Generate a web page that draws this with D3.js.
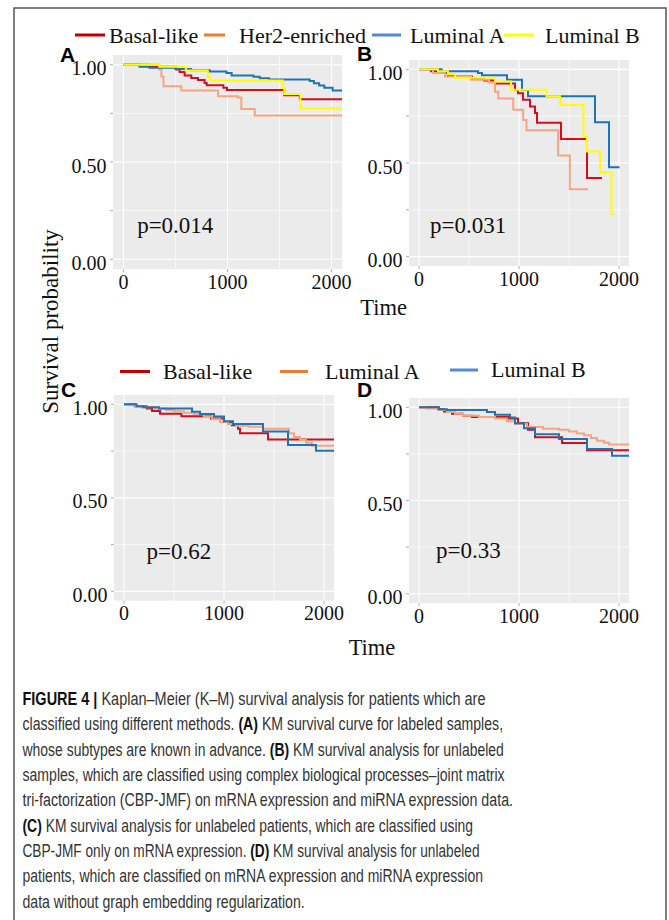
<!DOCTYPE html>
<html><head><meta charset="utf-8">
<script src="https://cdn.jsdelivr.net/npm/d3@7"></script>
<style>html,body{margin:0;padding:0;background:#fff;} svg{display:block}</style>
</head><body><svg id="c" width="669" height="920"></svg>
<script>
// ---------------- DATA ----------------
// Kaplan–Meier curves: [time, survival probability]
const basalA = [[0,1],[250,0.99],[508,0.975],[540,0.962],[588,0.945],[652,0.932],[716,0.922],[780,0.906],[800,0.895],[960,0.882],[995,0.87],[1545,0.843],[1695,0.822],[2100,0.822]];
const her2A  = [[0,1],[345,0.975],[365,0.94],[385,0.89],[556,0.868],[909,0.838],[1100,0.832],[1133,0.773],[1262,0.739],[2100,0.739]];
const lumAA  = [[0,1],[154,0.99],[250,0.985],[500,0.978],[650,0.972],[830,0.965],[990,0.957],[1040,0.945],[1250,0.938],[1310,0.93],[1400,0.924],[1790,0.916],[1830,0.905],[1880,0.893],[1930,0.882],[2010,0.868],[2100,0.868]];
const lumBA  = [[0,1],[347,0.99],[600,0.97],[810,0.935],[830,0.919],[1530,0.88],[1545,0.85],[1700,0.775],[2100,0.775]];

const basalB = [[0,1],[120,0.99],[230,0.98],[290,0.97],[360,0.962],[530,0.95],[650,0.94],[760,0.925],[960,0.89],[990,0.873],[1040,0.838],[1110,0.802],[1160,0.767],[1180,0.715],[1420,0.628],[1680,0.42],[1830,0.42]];
const her2B  = [[0,1],[140,0.98],[260,0.962],[520,0.945],[700,0.93],[760,0.88],[793,0.845],[943,0.785],[1042,0.73],[1075,0.675],[1391,0.54],[1508,0.36],[1690,0.36]];
const lumAB  = [[0,1],[226,0.99],[590,0.98],[630,0.968],[880,0.945],[1030,0.89],[1090,0.856],[1760,0.717],[1900,0.477],[2005,0.477]];
const lumBB  = [[0,1],[190,0.99],[290,0.975],[360,0.955],[760,0.935],[920,0.891],[1275,0.856],[1410,0.81],[1645,0.642],[1680,0.562],[1810,0.452],[1925,0.225],[1955,0.225]];

const basalC = [[0,1],[110,0.99],[226,0.978],[280,0.964],[360,0.95],[574,0.937],[870,0.925],[1000,0.905],[1080,0.888],[1140,0.87],[1160,0.845],[1440,0.812],[2100,0.812]];
const lumAC  = [[0,1],[100,0.993],[170,0.985],[300,0.977],[420,0.97],[500,0.963],[600,0.955],[700,0.948],[800,0.935],[880,0.92],[960,0.905],[1040,0.895],[1120,0.885],[1250,0.88],[1390,0.87],[1650,0.845],[1700,0.825],[1760,0.81],[1820,0.795],[1880,0.778],[2100,0.778]];
const lumBC  = [[0,1],[126,0.99],[192,0.985],[350,0.978],[680,0.96],[760,0.948],[900,0.935],[1000,0.91],[1090,0.895],[1390,0.855],[1640,0.783],[1920,0.752],[2100,0.752]];

const basalD = [[0,1],[190,0.99],[250,0.977],[330,0.965],[440,0.955],[530,0.948],[900,0.94],[990,0.915],[1090,0.88],[1160,0.84],[1430,0.808],[1680,0.77],[2100,0.77]];
const lumAD  = [[0,1],[70,0.993],[200,0.985],[280,0.975],[360,0.965],[440,0.955],[600,0.948],[760,0.94],[880,0.925],[960,0.91],[1080,0.895],[1240,0.885],[1400,0.88],[1500,0.87],[1580,0.86],[1650,0.85],[1720,0.835],[1780,0.82],[1850,0.81],[1900,0.8],[2100,0.8]];
const lumBD  = [[0,1],[200,0.99],[280,0.985],[680,0.975],[760,0.96],[910,0.945],[960,0.915],[1050,0.888],[1160,0.856],[1400,0.83],[1680,0.776],[1930,0.74],[2100,0.74]];

const pValues = ["p=0.014", "p=0.031", "p=0.62", "p=0.33"];
const panelLetters = ["A", "B", "C", "D"];
const topLegendLabels = ["Basal-like", "Her2-enriched", "Luminal A", "Luminal B"];
const bottomLegendLabels = ["Basal-like", "Luminal A", "Luminal B"];
const yTicks = [0, 0.25, 0.5, 0.75, 1];
const yTickLabels = {0: "0.00", 0.5: "0.50", 1: "1.00"};
const xTicks = [0, 1000, 2000];
const xMinor = [500, 1500];
const yMinor = [0.25, 0.75];
const captionLines = [
  "**FIGURE 4 |** Kaplan–Meier (K–M) survival analysis for patients which are",
  "classified using different methods. **(A)** KM survival curve for labeled samples,",
  "whose subtypes are known in advance. **(B)** KM survival analysis for unlabeled",
  "samples, which are classified using complex biological processes–joint matrix",
  "tri-factorization (CBP-JMF) on mRNA expression and miRNA expression data.",
  "**(C)** KM survival analysis for unlabeled patients, which are classified using",
  "CBP-JMF only on mRNA expression. **(D)** KM survival analysis for unlabeled",
  "patients, which are classified on mRNA expression and miRNA expression",
  "data without graph embedding regularization."
];

// ---------------- STYLE / LAYOUT ----------------
const C = {red:"#D0101F", salmon:"#F4A582", blue:"#1F74B4", yellow:"#FFFF00",
           lRed:"#C00000", lOrange:"#ED7D31", lBlue:"#4F8CD2", lYellow:"#FFFF00"};
const serif = "'Liberation Serif','Times New Roman',serif";
const sans = "'Liberation Sans',Arial,sans-serif";

const panels = [
  {x0:113, x1:342, y0:55, y1:269, series:[[basalA,C.red],[her2A,C.salmon],[lumAA,C.blue],[lumBA,C.yellow]], pPos:[132,0.134], letterPos:[60,62]},
  {x0:409, x1:629, y0:60, y1:266, series:[[basalB,C.red],[her2B,C.salmon],[lumAB,C.blue],[lumBB,C.yellow]], pPos:[110,0.125], letterPos:[357,61]},
  {x0:114, x1:334, y0:395, y1:600.7, series:[[basalC,C.red],[lumAC,C.salmon],[lumBC,C.blue]], pPos:[226,0.173], letterPos:[61,397]},
  {x0:409, x1:629, y0:398, y1:603, series:[[basalD,C.red],[lumAD,C.salmon],[lumBD,C.blue]], pPos:[170,0.193], letterPos:[357,397]}
];

const svg = d3.select("#c");

// figure frame
svg.append("rect").attr("x",14).attr("y",8).attr("width",652).attr("height",940)
  .attr("fill","none").attr("stroke","#555").attr("stroke-width",1.5);

panels.forEach((p, i) => {
  const x = d3.scaleLinear().domain([-100, 2100]).range([p.x0, p.x1]);
  const y = d3.scaleLinear().domain([-0.05, 1.05]).range([p.y1, p.y0]);
  const g = svg.append("g");

  g.append("rect").attr("x",p.x0).attr("y",p.y0).attr("width",p.x1-p.x0).attr("height",p.y1-p.y0).attr("fill","#EBEBEB");
  // minor grid
  g.selectAll(".ym").data(yMinor).join("line").attr("x1",p.x0).attr("x2",p.x1).attr("y1",d=>y(d)).attr("y2",d=>y(d)).attr("stroke","#fff").attr("stroke-width",0.6);
  g.selectAll(".xm").data(xMinor).join("line").attr("y1",p.y0).attr("y2",p.y1).attr("x1",d=>x(d)).attr("x2",d=>x(d)).attr("stroke","#fff").attr("stroke-width",0.6);
  // major grid
  g.selectAll(".yM").data([0,0.5,1]).join("line").attr("x1",p.x0).attr("x2",p.x1).attr("y1",d=>y(d)).attr("y2",d=>y(d)).attr("stroke","#fff").attr("stroke-width",1.1);
  g.selectAll(".xM").data(xTicks).join("line").attr("y1",p.y0).attr("y2",p.y1).attr("x1",d=>x(d)).attr("x2",d=>x(d)).attr("stroke","#fff").attr("stroke-width",1.1);

  // ticks
  g.selectAll(".yt").data(yTicks).join("line").attr("x1",p.x0-3).attr("x2",p.x0).attr("y1",d=>y(d)).attr("y2",d=>y(d)).attr("stroke","#999").attr("stroke-width",0.8);
  g.selectAll(".xt").data(xTicks).join("line").attr("y1",p.y1).attr("y2",p.y1+3).attr("x1",d=>x(d)).attr("x2",d=>x(d)).attr("stroke","#999").attr("stroke-width",0.8);

  // tick labels
  g.selectAll(".ytl").data([0,0.5,1]).join("text").attr("x",p.x0-6.5).attr("y",d=>y(d)+10.5)
    .attr("text-anchor","end").attr("font-family",serif).attr("font-size",20).attr("fill","#111").text(d=>yTickLabels[d]);
  g.selectAll(".xtl").data(xTicks).join("text").attr("x",d=>x(d)).attr("y",p.y1+19.5)
    .attr("text-anchor","middle").attr("font-family",serif).attr("font-size",20).attr("fill","#111").text(d=>d);

  // curves
  const cid = "clip"+i;
  svg.append("clipPath").attr("id",cid).append("rect").attr("x",p.x0).attr("y",p.y0).attr("width",p.x1-p.x0).attr("height",p.y1-p.y0);
  const line = d3.line().x(d=>x(d[0])).y(d=>y(d[1])).curve(d3.curveStepAfter);
  const cg = g.append("g").attr("clip-path",`url(#${cid})`);
  p.series.forEach(([data,col]) => {
    cg.append("path").attr("d",line(data)).attr("fill","none").attr("stroke",col).attr("stroke-width",2);
  });

  // p-value
  g.append("text").attr("x",x(p.pPos[0])).attr("y",y(p.pPos[1])).attr("font-family",serif).attr("font-size",23).attr("fill","#111").text(pValues[i]);
  // letter
  g.append("text").attr("x",p.letterPos[0]).attr("y",p.letterPos[1]).attr("font-family",sans).attr("font-weight","bold").attr("font-size",21).attr("fill","#000").text(panelLetters[i]);
});

// legends
const topLegend = [
  {c:C.lRed, l:[75,105], tx:109},
  {c:C.lOrange, l:[204,225], tx:239},
  {c:C.lBlue, l:[372,401], tx:410},
  {c:C.lYellow, l:[504,534], tx:545}
];
topLegend.forEach((d,i)=>{
  svg.append("line").attr("x1",d.l[0]).attr("x2",d.l[1]).attr("y1",35).attr("y2",35).attr("stroke",d.c).attr("stroke-width",3);
  svg.append("text").attr("x",d.tx).attr("y",42.5).attr("font-family",serif).attr("font-size",22).attr("fill","#111").text(topLegendLabels[i]);
});
const bottomLegend = [
  {c:C.lRed, l:[120,150], tx:163, y:371.5},
  {c:C.lOrange, l:[280,308], tx:325, y:371.5},
  {c:C.lBlue, l:[450,478], tx:491, y:370}
];
bottomLegend.forEach((d,i)=>{
  svg.append("line").attr("x1",d.l[0]).attr("x2",d.l[1]).attr("y1",d.y).attr("y2",d.y).attr("stroke",d.c).attr("stroke-width",3);
  svg.append("text").attr("x",d.tx).attr("y",d.y+7).attr("font-family",serif).attr("font-size",22).attr("fill","#111").text(bottomLegendLabels[i]);
});

// axis titles
svg.append("text").attr("x",383.7).attr("y",315).attr("text-anchor","middle").attr("font-family",serif).attr("font-size",22.5).attr("fill","#111").text("Time");
svg.append("text").attr("x",372).attr("y",655).attr("text-anchor","middle").attr("font-family",serif).attr("font-size",22.5).attr("fill","#111").text("Time");
svg.append("text").attr("transform","translate(58,321.5) rotate(-90)").attr("text-anchor","middle").attr("font-family",serif).attr("font-size",23).attr("fill","#111").text("Survival probability");

// caption
const capEnds = [485.7, 503.3, 504, 505, 513.3, 473.3, 480, 483.3, 305];
captionLines.forEach((ln, i) => {
  const yy = 705 + i*25.35;
  const t = svg.append("text").attr("font-family",sans).attr("font-size",18.5).attr("fill","#333");
  ln.split("**").forEach((seg, k) => {
    if (!seg) return;
    const ts = t.append("tspan").text(seg);
    if (k % 2 === 1) ts.attr("font-weight","bold").attr("fill","#111");
  });
  const w = t.node().getComputedTextLength();
  const k = (capEnds[i] - 22.5) / w;
  t.attr("transform",`translate(22.5,${yy}) scale(${k},1)`);
});
</script></body></html>
